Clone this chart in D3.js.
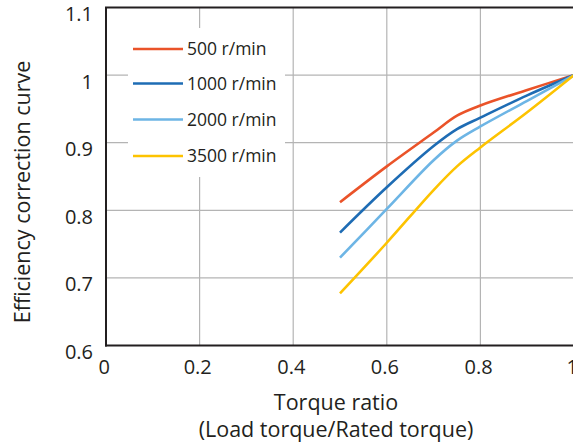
<!DOCTYPE html>
<html><head><meta charset="utf-8">
<script src="https://cdn.jsdelivr.net/npm/d3@7"></script>
<style>
html,body{margin:0;padding:0;background:#fff;}
svg{display:block;}
text{font-family:"Open Sans",sans-serif;fill:#231f20;}
</style></head>
<body>
<svg id="chart" width="573" height="443"></svg>
<script>
const xValues = [0.5, 0.6, 0.7, 0.75, 0.8, 0.9, 1.0];
const series500 = [0.812, 0.865, 0.915, 0.940, 0.955, 0.978, 1.0];
const series1000 = [0.767, 0.834, 0.895, 0.920, 0.937, 0.970, 1.0];
const series2000 = [0.730, 0.802, 0.874, 0.903, 0.924, 0.962, 1.0];
const series3500 = [0.677, 0.752, 0.830, 0.865, 0.893, 0.945, 1.0];
const seriesNames = ["500 r/min", "1000 r/min", "2000 r/min", "3500 r/min"];
const seriesColors = ["#ea5329", "#1e6cb4", "#6db5e5", "#fdc300"];
const xTicks = [0, 0.2, 0.4, 0.6, 0.8, 1];
const yTicks = [0.6, 0.7, 0.8, 0.9, 1.0, 1.1];
const xTitle1 = "Torque ratio";
const xTitle2 = "(Load torque/Rated torque)";
const yTitle = "Efficiency correction curve";

const allSeries = [series500, series1000, series2000, series3500];

const svg = d3.select("#chart");
const x = d3.scaleLinear().domain([0, 1]).range([106, 574]);
const y = d3.scaleLinear().domain([0.6, 1.1]).range([345.5, 7.5]);
const fmt = v => String(+v.toFixed(1));

// gridlines
const grid = svg.append("g");
grid.selectAll("line.h").data(yTicks.filter(v => v > 0.6 && v < 1.1)).enter()
  .append("line").attr("class","h")
  .attr("x1", x(0)).attr("x2", 573)
  .attr("y1", d => y(d)).attr("y2", d => y(d))
  .attr("stroke", "#b4b4b4").attr("stroke-width", 1.2);
grid.selectAll("line.v").data(xTicks.filter(v => v > 0 && v < 1)).enter()
  .append("line").attr("class","v")
  .attr("x1", d => x(d)).attr("x2", d => x(d))
  .attr("y1", y(1.1)).attr("y2", y(0.6))
  .attr("stroke", "#b4b4b4").attr("stroke-width", 1.2);

// legend background box
svg.append("rect").attr("x", 128).attr("y", 28).attr("width", 157).attr("height", 149).attr("fill", "#fff");

// curves
const line = d3.line().x((d, i) => x(xValues[i])).y(d => y(d)).curve(d3.curveCatmullRom.alpha(0.5));
svg.selectAll("path.series").data(allSeries).enter().append("path")
  .attr("class", "series")
  .attr("d", d => line(d))
  .attr("fill", "none")
  .attr("stroke", (d, i) => seriesColors[i])
  .attr("stroke-width", 2.6)
  .attr("stroke-linejoin", "round");

// frame
const frame = svg.append("g").attr("stroke", "#231f20").attr("stroke-width", 2).attr("fill", "none");
frame.append("line").attr("x1", x(0)).attr("x2", x(0)).attr("y1", y(1.1)).attr("y2", y(0.6) + 1);
frame.append("line").attr("x1", x(0) - 1).attr("x2", 573).attr("y1", y(0.6)).attr("y2", y(0.6));
frame.append("line").attr("x1", x(0) - 1).attr("x2", 573).attr("y1", y(1.1)).attr("y2", y(1.1));

// axes (labels only)
const yAxis = svg.append("g").attr("transform", `translate(${x(0)},0)`)
  .call(d3.axisLeft(y).tickValues(yTicks).tickFormat(fmt).tickSize(0).tickPadding(13));
yAxis.select(".domain").remove();
yAxis.selectAll("text").attr("font-size", 20).attr("dy", "0.65em").style("font-family", "'Open Sans',sans-serif").attr("fill", "#231f20");

const xAxis = svg.append("g").attr("transform", `translate(0,${y(0.6)})`)
  .call(d3.axisBottom(x).tickValues(xTicks).tickFormat(fmt).tickSize(0).tickPadding(14));
xAxis.select(".domain").remove();
xAxis.selectAll("text").attr("font-size", 20).attr("dx", "-0.12em").style("font-family", "'Open Sans',sans-serif").attr("fill", "#231f20");

// legend
const leg = svg.append("g");
const legY = [49, 83.5, 119.5, 156];
seriesNames.forEach((name, i) => {
  leg.append("line").attr("x1", 133).attr("x2", 183).attr("y1", legY[i]).attr("y2", legY[i])
    .attr("stroke", seriesColors[i]).attr("stroke-width", 2.6);
  leg.append("text").attr("x", 187).attr("y", legY[i]).attr("dy", "0.36em")
    .attr("font-size", 17.5).text(name);
});

// titles
svg.append("text").attr("x", 336).attr("y", 402).attr("dy", "0.35em").attr("text-anchor", "middle")
  .attr("font-size", 21.5).text(xTitle1);
svg.append("text").attr("x", 336).attr("y", 429).attr("dy", "0.35em").attr("text-anchor", "middle")
  .attr("font-size", 21.5).text(xTitle2);
svg.append("text").attr("transform", "translate(22,192) rotate(-90)").attr("dy", "0.35em")
  .attr("text-anchor", "middle").attr("font-size", 21.5).text(yTitle);
</script>
</body></html>
